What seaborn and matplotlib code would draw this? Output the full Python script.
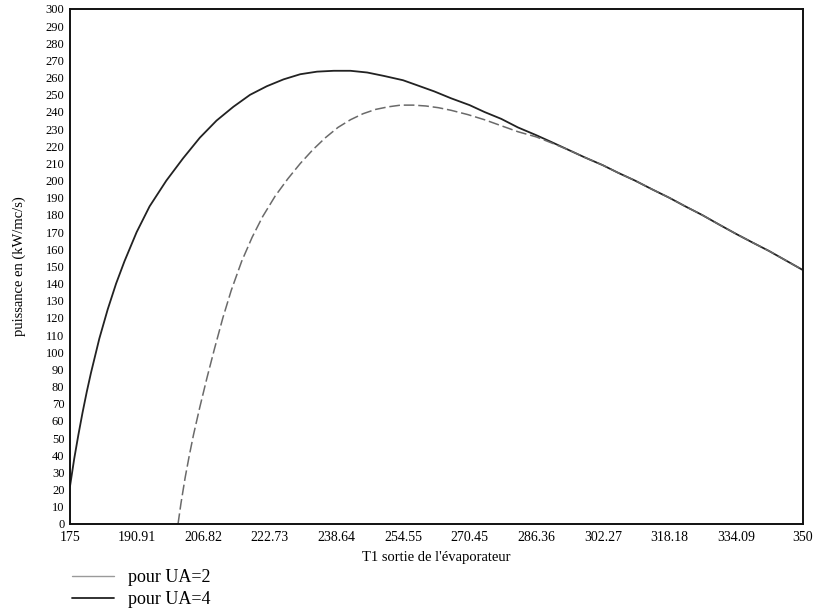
import matplotlib
matplotlib.use("Agg")
import matplotlib.pyplot as plt
import seaborn as sns
import pandas as pd
from matplotlib.lines import Line2D

# Data
t_ua4 = [175, 176, 177, 178, 179, 180, 182, 184, 186, 188, 190.91, 194, 198,
         202, 206, 210, 214, 218, 222, 226, 230, 234, 238, 242, 246, 250,
         254.55, 258, 262, 266, 270.45, 274, 278, 282, 286.36, 290, 294, 298,
         302.27, 306, 310, 314, 318.18, 322, 326, 330, 334.09, 338, 342, 346,
         350]
p_ua4 = [22, 38, 52, 65, 77, 88, 108, 125, 140, 153, 170, 185, 200,
         213, 225, 235, 243, 250, 255, 259, 262, 263.5, 264, 264, 263, 261,
         258.5, 255.5, 252, 248, 244, 240, 236, 231, 226.5, 222.5, 218, 213.5,
         209, 204.5, 200, 195, 190, 185, 180, 174.5, 169, 164, 159, 153.5,
         148]

t_ua2 = [200.8, 201.5, 202.5, 203.5, 204.5, 206, 207.7, 209.5, 211.5, 213.5,
         216, 218.5, 221, 224, 227, 230, 233, 236, 239, 242, 245, 248, 251,
         254, 257, 260, 263, 266, 270, 274, 278, 282, 286.36, 290, 294, 298,
         302.27, 306, 310, 314, 318.18, 322, 326, 330, 334.09, 338, 342, 346,
         350]
p_ua2 = [0, 12, 27, 40, 52, 68, 85, 102, 120, 136,
         153, 167, 179, 191, 201, 210, 218, 225, 231, 235.5, 239, 241.5, 243,
         244, 244, 243.5, 242.5, 241, 238.5, 235.5, 232, 228.5, 225.5, 222, 218, 213.5,
         209, 204.5, 200, 195, 190, 185, 180, 174.5, 169, 164, 159, 153.5,
         148]

x_ticks = [175, 190.91, 206.82, 222.73, 238.64, 254.55, 270.45, 286.36,
           302.27, 318.18, 334.09, 350]
x_tick_labels = ["175", "190.91", "206.82", "222.73", "238.64", "254.55",
                 "270.45", "286.36", "302.27", "318.18", "334.09", "350"]
y_ticks = list(range(0, 301, 10))
series_names = ["pour UA=2", "pour UA=4"]

sns.set_theme(style="white")
plt.rcParams["font.family"] = ["Liberation Serif", "DejaVu Serif"]
plt.rcParams["text.color"] = "black"
plt.rcParams["axes.labelcolor"] = "black"
plt.rcParams["xtick.color"] = "black"
plt.rcParams["ytick.color"] = "black"

fig = plt.figure(figsize=(8.19, 6.16), dpi=100)
ax = fig.add_axes([0.0855, 0.1494, 0.8945, 0.836])

df4 = pd.DataFrame({"T": t_ua4, "P": p_ua4})
df2 = pd.DataFrame({"T": t_ua2, "P": p_ua2})
sns.lineplot(data=df4, x="T", y="P", ax=ax, color="#222222", linewidth=1.3,
             sort=True, estimator=None)
sns.lineplot(data=df2, x="T", y="P", ax=ax, color="#6a6a6a", linewidth=1.1,
             sort=True, estimator=None)
ax.lines[-1].set_dashes([7, 2.5])

ax.set_xlim(175, 350)
ax.set_ylim(0, 300)
ax.set_xticks(x_ticks)
ax.set_xticklabels(x_tick_labels, fontsize=10)
ax.set_yticks(y_ticks)
ax.set_yticklabels([str(v) for v in y_ticks], fontsize=9)
ax.tick_params(axis="both", length=0, pad=4, colors="black")
ax.tick_params(axis="x", pad=5)
ax.set_xlabel("T1 sortie de l'évaporateur", fontsize=10.5, labelpad=5, color="black")
ax.set_ylabel("puissance en (kW/mc/s)", fontsize=10.5, labelpad=14, color="black")
for s in ax.spines.values():
    s.set_color("#111111")
    s.set_linewidth(1.4)
ax.grid(False)

handles = [Line2D([], [], color="#9a9a9a", linewidth=1.0),
           Line2D([], [], color="#222222", linewidth=1.3)]
fig.legend(handles, series_names, loc="upper left",
           bbox_to_anchor=(72 / 819, 1 - 569 / 616),
           bbox_transform=fig.transFigure, frameon=False,
           fontsize=13, handlelength=2.3, handletextpad=0.8,
           labelspacing=0.3, borderpad=0, borderaxespad=0,
           labelcolor="black")

fig.savefig("out.png", dpi=100)
